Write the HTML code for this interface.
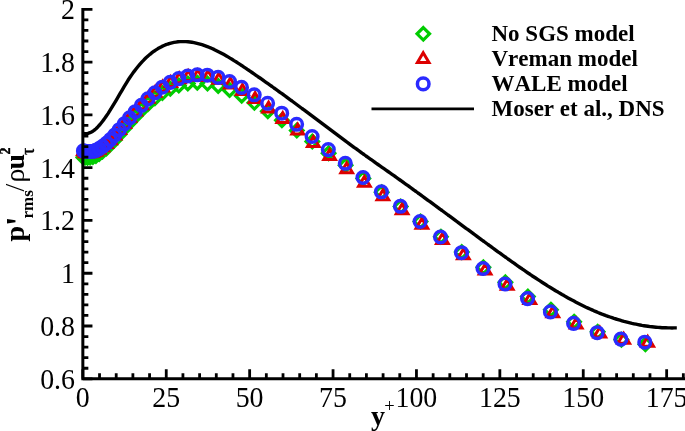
<!DOCTYPE html>
<html><head><meta charset="utf-8"><title>p rms</title>
<style>
html,body{margin:0;padding:0;background:#fff}
svg{display:block}
text{font-family:"Liberation Serif",serif;fill:#000;font-kerning:none}
.n{font-size:29.5px}
.b{font-weight:bold}
</style></head><body>
<svg width="685" height="431" viewBox="0 0 685 431">
<rect width="685" height="431" fill="#fff"/>
<path d="M82.8,133.1 L84.0,133.4 L86.0,133.6 L88.0,133.4 L90.0,132.7 L92.0,131.7 L94.0,130.4 L96.0,128.7 L98.0,126.7 L100.0,124.5 L102.0,122.0 L104.0,119.4 L106.0,116.5 L108.0,113.6 L110.0,110.4 L112.0,107.2 L114.0,103.9 L116.0,100.6 L118.0,97.2 L120.0,93.7 L122.0,90.3 L124.0,86.9 L126.0,83.6 L128.0,80.3 L130.0,77.3 L132.0,74.4 L134.0,71.6 L136.0,69.0 L138.0,66.5 L140.0,64.1 L142.0,61.9 L144.0,59.8 L146.0,57.8 L148.0,56.0 L150.0,54.3 L152.0,52.7 L154.0,51.2 L156.0,49.9 L158.0,48.6 L160.0,47.5 L162.0,46.4 L164.0,45.5 L166.0,44.7 L168.0,44.0 L170.0,43.4 L172.0,42.8 L174.0,42.4 L176.0,42.1 L178.0,41.8 L180.0,41.6 L182.0,41.6 L184.0,41.6 L186.0,41.6 L188.0,41.8 L190.0,42.0 L192.0,42.3 L194.0,42.6 L196.0,43.1 L198.0,43.6 L200.0,44.1 L202.0,44.7 L204.0,45.4 L206.0,46.1 L208.0,46.8 L210.0,47.7 L212.0,48.5 L214.0,49.4 L216.0,50.4 L218.0,51.4 L220.0,52.4 L222.0,53.5 L224.0,54.6 L226.0,55.7 L228.0,56.9 L230.0,58.1 L232.0,59.3 L234.0,60.6 L236.0,61.8 L238.0,63.1 L240.0,64.4 L242.0,65.7 L244.0,67.1 L246.0,68.4 L248.0,69.8 L250.0,71.1 L252.0,72.5 L254.0,73.9 L256.0,75.3 L258.0,76.7 L260.0,78.0 L262.0,79.4 L264.0,80.9 L266.0,82.3 L268.0,83.7 L270.0,85.1 L272.0,86.5 L274.0,88.0 L276.0,89.4 L278.0,90.8 L280.0,92.3 L282.0,93.7 L284.0,95.2 L286.0,96.6 L288.0,98.1 L290.0,99.6 L292.0,101.0 L294.0,102.5 L296.0,104.0 L298.0,105.5 L300.0,107.0 L302.0,108.5 L304.0,109.9 L306.0,111.4 L308.0,112.9 L310.0,114.4 L312.0,115.9 L314.0,117.4 L316.0,118.9 L318.0,120.4 L320.0,121.9 L322.0,123.4 L324.0,124.9 L326.0,126.4 L328.0,127.9 L330.0,129.4 L332.0,130.9 L334.0,132.4 L336.0,133.9 L338.0,135.4 L340.0,136.9 L342.0,138.4 L344.0,139.9 L346.0,141.4 L348.0,142.8 L350.0,144.3 L352.0,145.8 L354.0,147.3 L356.0,148.7 L358.0,150.2 L360.0,151.6 L362.0,153.1 L364.0,154.5 L366.0,156.0 L368.0,157.4 L370.0,158.8 L372.0,160.2 L374.0,161.6 L376.0,163.1 L378.0,164.5 L380.0,165.9 L382.0,167.3 L384.0,168.7 L386.0,170.1 L388.0,171.5 L390.0,172.9 L392.0,174.3 L394.0,175.7 L396.0,177.2 L398.0,178.6 L400.0,180.0 L402.0,181.4 L404.0,182.9 L406.0,184.3 L408.0,185.7 L410.0,187.2 L412.0,188.6 L414.0,190.1 L416.0,191.5 L418.0,193.0 L420.0,194.4 L422.0,195.9 L424.0,197.3 L426.0,198.8 L428.0,200.3 L430.0,201.7 L432.0,203.2 L434.0,204.7 L436.0,206.1 L438.0,207.6 L440.0,209.1 L442.0,210.5 L444.0,212.0 L446.0,213.5 L448.0,215.0 L450.0,216.4 L452.0,217.9 L454.0,219.4 L456.0,220.9 L458.0,222.3 L460.0,223.8 L462.0,225.3 L464.0,226.8 L466.0,228.3 L468.0,229.7 L470.0,231.2 L472.0,232.7 L474.0,234.2 L476.0,235.6 L478.0,237.1 L480.0,238.6 L482.0,240.1 L484.0,241.5 L486.0,243.0 L488.0,244.5 L490.0,245.9 L492.0,247.4 L494.0,248.8 L496.0,250.3 L498.0,251.8 L500.0,253.2 L502.0,254.7 L504.0,256.1 L506.0,257.5 L508.0,259.0 L510.0,260.4 L512.0,261.8 L514.0,263.2 L516.0,264.7 L518.0,266.1 L520.0,267.5 L522.0,268.8 L524.0,270.2 L526.0,271.6 L528.0,273.0 L530.0,274.3 L532.0,275.7 L534.0,277.0 L536.0,278.3 L538.0,279.6 L540.0,280.9 L542.0,282.2 L544.0,283.5 L546.0,284.8 L548.0,286.1 L550.0,287.3 L552.0,288.5 L554.0,289.7 L556.0,291.0 L558.0,292.1 L560.0,293.3 L562.0,294.5 L564.0,295.6 L566.0,296.8 L568.0,297.9 L570.0,299.0 L572.0,300.1 L574.0,301.1 L576.0,302.2 L578.0,303.2 L580.0,304.2 L582.0,305.2 L584.0,306.2 L586.0,307.2 L588.0,308.1 L590.0,309.0 L592.0,309.9 L594.0,310.8 L596.0,311.6 L598.0,312.5 L600.0,313.3 L602.0,314.1 L604.0,314.8 L606.0,315.6 L608.0,316.3 L610.0,317.0 L612.0,317.7 L614.0,318.4 L616.0,319.0 L618.0,319.6 L620.0,320.2 L622.0,320.8 L624.0,321.4 L626.0,321.9 L628.0,322.4 L630.0,322.9 L632.0,323.4 L634.0,323.8 L636.0,324.2 L638.0,324.6 L640.0,325.0 L642.0,325.4 L644.0,325.7 L646.0,326.0 L648.0,326.3 L650.0,326.6 L652.0,326.8 L654.0,327.0 L656.0,327.2 L658.0,327.4 L660.0,327.5 L662.0,327.7 L664.0,327.8 L666.0,327.8 L668.0,327.9 L670.0,327.9 L672.0,328.0 L674.0,327.9 L676.0,327.9 L676.8,327.9" fill="none" stroke="#000" stroke-width="3.4" stroke-linejoin="round"/>
<path d="M83.4,151.2l6.24,6.24l-6.24,6.24l-6.24,-6.24z M85.1,151.3l6.24,6.24l-6.24,6.24l-6.24,-6.24z M87.5,151.5l6.24,6.24l-6.24,6.24l-6.24,-6.24z M90.1,151.3l6.24,6.24l-6.24,6.24l-6.24,-6.24z M92.9,150.8l6.24,6.24l-6.24,6.24l-6.24,-6.24z M95.9,149.8l6.24,6.24l-6.24,6.24l-6.24,-6.24z M99.2,147.8l6.24,6.24l-6.24,6.24l-6.24,-6.24z M102.6,145.3l6.24,6.24l-6.24,6.24l-6.24,-6.24z M106.4,142.2l6.24,6.24l-6.24,6.24l-6.24,-6.24z M110.4,138.3l6.24,6.24l-6.24,6.24l-6.24,-6.24z M114.7,133.7l6.24,6.24l-6.24,6.24l-6.24,-6.24z M119.4,128.2l6.24,6.24l-6.24,6.24l-6.24,-6.24z M124.3,122.3l6.24,6.24l-6.24,6.24l-6.24,-6.24z M129.7,116.2l6.24,6.24l-6.24,6.24l-6.24,-6.24z M135.3,110.2l6.24,6.24l-6.24,6.24l-6.24,-6.24z M141.4,103.9l6.24,6.24l-6.24,6.24l-6.24,-6.24z M148.0,97.7l6.24,6.24l-6.24,6.24l-6.24,-6.24z M154.9,91.9l6.24,6.24l-6.24,6.24l-6.24,-6.24z M162.4,86.8l6.24,6.24l-6.24,6.24l-6.24,-6.24z M170.3,82.5l6.24,6.24l-6.24,6.24l-6.24,-6.24z M178.8,79.2l6.24,6.24l-6.24,6.24l-6.24,-6.24z M187.8,77.2l6.24,6.24l-6.24,6.24l-6.24,-6.24z M197.3,76.5l6.24,6.24l-6.24,6.24l-6.24,-6.24z M207.5,77.3l6.24,6.24l-6.24,6.24l-6.24,-6.24z M218.2,79.7l6.24,6.24l-6.24,6.24l-6.24,-6.24z M229.6,83.7l6.24,6.24l-6.24,6.24l-6.24,-6.24z M241.7,89.4l6.24,6.24l-6.24,6.24l-6.24,-6.24z M254.4,96.6l6.24,6.24l-6.24,6.24l-6.24,-6.24z M267.8,105.0l6.24,6.24l-6.24,6.24l-6.24,-6.24z M281.9,114.1l6.24,6.24l-6.24,6.24l-6.24,-6.24z M296.8,124.2l6.24,6.24l-6.24,6.24l-6.24,-6.24z M312.3,135.2l6.24,6.24l-6.24,6.24l-6.24,-6.24z M328.6,147.0l6.24,6.24l-6.24,6.24l-6.24,-6.24z M345.6,159.1l6.24,6.24l-6.24,6.24l-6.24,-6.24z M363.3,172.2l6.24,6.24l-6.24,6.24l-6.24,-6.24z M381.7,186.0l6.24,6.24l-6.24,6.24l-6.24,-6.24z M400.7,200.3l6.24,6.24l-6.24,6.24l-6.24,-6.24z M420.5,215.2l6.24,6.24l-6.24,6.24l-6.24,-6.24z M440.9,230.4l6.24,6.24l-6.24,6.24l-6.24,-6.24z M461.8,245.8l6.24,6.24l-6.24,6.24l-6.24,-6.24z M483.4,261.1l6.24,6.24l-6.24,6.24l-6.24,-6.24z M505.4,276.1l6.24,6.24l-6.24,6.24l-6.24,-6.24z M527.9,290.3l6.24,6.24l-6.24,6.24l-6.24,-6.24z M550.9,303.5l6.24,6.24l-6.24,6.24l-6.24,-6.24z M574.1,315.4l6.24,6.24l-6.24,6.24l-6.24,-6.24z M597.7,325.6l6.24,6.24l-6.24,6.24l-6.24,-6.24z M621.4,333.4l6.24,6.24l-6.24,6.24l-6.24,-6.24z M645.4,337.9l6.24,6.24l-6.24,6.24l-6.24,-6.24z" fill="none" stroke="#00cc00" stroke-width="3.2" stroke-linejoin="miter"/>
<path d="M83.4,144.9l5.8,9.8l-11.60,0z M85.1,147.0l5.8,9.8l-11.60,0z M87.5,147.1l5.8,9.8l-11.60,0z M90.1,146.9l5.8,9.8l-11.60,0z M93.0,146.5l5.8,9.8l-11.60,0z M96.0,145.4l5.8,9.8l-11.60,0z M99.2,143.5l5.8,9.8l-11.60,0z M102.7,140.9l5.8,9.8l-11.60,0z M106.5,137.8l5.8,9.8l-11.60,0z M110.5,133.9l5.8,9.8l-11.60,0z M114.9,129.1l5.8,9.8l-11.60,0z M119.5,123.6l5.8,9.8l-11.60,0z M124.5,117.6l5.8,9.8l-11.60,0z M129.8,111.5l5.8,9.8l-11.60,0z M135.6,105.3l5.8,9.8l-11.60,0z M141.7,98.9l5.8,9.8l-11.60,0z M148.2,92.5l5.8,9.8l-11.60,0z M155.2,86.5l5.8,9.8l-11.60,0z M162.7,81.1l5.8,9.8l-11.60,0z M170.7,76.6l5.8,9.8l-11.60,0z M179.2,73.0l5.8,9.8l-11.60,0z M188.2,70.7l5.8,9.8l-11.60,0z M197.8,69.9l5.8,9.8l-11.60,0z M208.0,70.8l5.8,9.8l-11.60,0z M218.8,73.5l5.8,9.8l-11.60,0z M230.3,78.1l5.8,9.8l-11.60,0z M242.4,84.6l5.8,9.8l-11.60,0z M255.1,92.7l5.8,9.8l-11.60,0z M268.6,102.3l5.8,9.8l-11.60,0z M282.8,112.7l5.8,9.8l-11.60,0z M297.7,124.2l5.8,9.8l-11.60,0z M313.3,136.6l5.8,9.8l-11.60,0z M329.6,149.6l5.8,9.8l-11.60,0z M346.7,162.9l5.8,9.8l-11.60,0z M364.4,176.5l5.8,9.8l-11.60,0z M382.9,190.0l5.8,9.8l-11.60,0z M402.1,203.9l5.8,9.8l-11.60,0z M421.9,218.5l5.8,9.8l-11.60,0z M442.4,233.6l5.8,9.8l-11.60,0z M463.4,249.0l5.8,9.8l-11.60,0z M485.1,264.3l5.8,9.8l-11.60,0z M507.2,279.5l5.8,9.8l-11.60,0z M529.8,293.8l5.8,9.8l-11.60,0z M552.8,306.9l5.8,9.8l-11.60,0z M576.2,318.2l5.8,9.8l-11.60,0z M599.8,327.2l5.8,9.8l-11.60,0z M623.7,333.4l5.8,9.8l-11.60,0z M647.7,336.4l5.8,9.8l-11.60,0z" fill="none" stroke="#dd0000" stroke-width="3" stroke-linejoin="miter"/>
<g fill="none" stroke="#2a2aff" stroke-width="3.5">
<circle cx="83.4" cy="150.9" r="5.8"/>
<circle cx="85.1" cy="151.2" r="5.8"/>
<circle cx="87.5" cy="151.5" r="5.8"/>
<circle cx="90.1" cy="151.5" r="5.8"/>
<circle cx="92.9" cy="151.3" r="5.8"/>
<circle cx="95.9" cy="150.4" r="5.8"/>
<circle cx="99.1" cy="148.6" r="5.8"/>
<circle cx="102.6" cy="146.3" r="5.8"/>
<circle cx="106.4" cy="143.4" r="5.8"/>
<circle cx="110.4" cy="139.6" r="5.8"/>
<circle cx="114.7" cy="135.1" r="5.8"/>
<circle cx="119.3" cy="129.7" r="5.8"/>
<circle cx="124.3" cy="123.9" r="5.8"/>
<circle cx="129.6" cy="117.8" r="5.8"/>
<circle cx="135.3" cy="111.7" r="5.8"/>
<circle cx="141.4" cy="105.3" r="5.8"/>
<circle cx="147.9" cy="98.9" r="5.8"/>
<circle cx="154.9" cy="92.8" r="5.8"/>
<circle cx="162.3" cy="87.2" r="5.8"/>
<circle cx="170.2" cy="82.4" r="5.8"/>
<circle cx="178.7" cy="78.6" r="5.8"/>
<circle cx="187.7" cy="76.0" r="5.8"/>
<circle cx="197.2" cy="74.8" r="5.8"/>
<circle cx="207.3" cy="75.2" r="5.8"/>
<circle cx="218.1" cy="77.4" r="5.8"/>
<circle cx="229.5" cy="81.5" r="5.8"/>
<circle cx="241.5" cy="87.4" r="5.8"/>
<circle cx="254.2" cy="94.8" r="5.8"/>
<circle cx="267.6" cy="103.3" r="5.8"/>
<circle cx="281.7" cy="113.2" r="5.8"/>
<circle cx="296.6" cy="124.3" r="5.8"/>
<circle cx="312.1" cy="136.5" r="5.8"/>
<circle cx="328.3" cy="149.6" r="5.8"/>
<circle cx="345.3" cy="163.3" r="5.8"/>
<circle cx="363.0" cy="177.5" r="5.8"/>
<circle cx="381.4" cy="191.8" r="5.8"/>
<circle cx="400.4" cy="206.3" r="5.8"/>
<circle cx="420.1" cy="221.5" r="5.8"/>
<circle cx="440.5" cy="237.0" r="5.8"/>
<circle cx="461.5" cy="252.7" r="5.8"/>
<circle cx="483.0" cy="268.5" r="5.8"/>
<circle cx="505.0" cy="284.0" r="5.8"/>
<circle cx="527.5" cy="298.6" r="5.8"/>
<circle cx="550.4" cy="311.9" r="5.8"/>
<circle cx="573.6" cy="323.4" r="5.8"/>
<circle cx="597.2" cy="332.7" r="5.8"/>
<circle cx="620.9" cy="339.1" r="5.8"/>
<circle cx="644.8" cy="342.2" r="5.8"/>
</g>
<path d="M82.85,8 V378.8 H686" fill="none" stroke="#000" stroke-width="3" stroke-linejoin="miter"/>
<path d="M82.85,378.80h9.600000000000001 M82.85,368.24h5.5 M82.85,357.69h5.5 M82.85,347.13h5.5 M82.85,336.58h5.5 M82.85,326.02h9.600000000000001 M82.85,315.46h5.5 M82.85,304.91h5.5 M82.85,294.35h5.5 M82.85,283.80h5.5 M82.85,273.24h9.600000000000001 M82.85,262.68h5.5 M82.85,252.13h5.5 M82.85,241.57h5.5 M82.85,231.02h5.5 M82.85,220.46h9.600000000000001 M82.85,209.90h5.5 M82.85,199.35h5.5 M82.85,188.79h5.5 M82.85,178.24h5.5 M82.85,167.68h9.600000000000001 M82.85,157.12h5.5 M82.85,146.57h5.5 M82.85,136.01h5.5 M82.85,125.46h5.5 M82.85,114.90h9.600000000000001 M82.85,104.34h5.5 M82.85,93.79h5.5 M82.85,83.23h5.5 M82.85,72.68h5.5 M82.85,62.12h9.600000000000001 M82.85,51.56h5.5 M82.85,41.01h5.5 M82.85,30.45h5.5 M82.85,19.90h5.5 M82.85,9.34h9.600000000000001 M82.85,378.8v-9.600000000000001 M99.53,378.8v-5.5 M116.21,378.8v-5.5 M132.89,378.8v-5.5 M149.57,378.8v-5.5 M166.25,378.8v-9.600000000000001 M182.93,378.8v-5.5 M199.61,378.8v-5.5 M216.29,378.8v-5.5 M232.97,378.8v-5.5 M249.65,378.8v-9.600000000000001 M266.33,378.8v-5.5 M283.01,378.8v-5.5 M299.69,378.8v-5.5 M316.37,378.8v-5.5 M333.05,378.8v-9.600000000000001 M349.73,378.8v-5.5 M366.41,378.8v-5.5 M383.09,378.8v-5.5 M399.77,378.8v-5.5 M416.45,378.8v-9.600000000000001 M433.13,378.8v-5.5 M449.81,378.8v-5.5 M466.49,378.8v-5.5 M483.17,378.8v-5.5 M499.85,378.8v-9.600000000000001 M516.53,378.8v-5.5 M533.21,378.8v-5.5 M549.89,378.8v-5.5 M566.57,378.8v-5.5 M583.25,378.8v-9.600000000000001 M599.93,378.8v-5.5 M616.61,378.8v-5.5 M633.29,378.8v-5.5 M649.97,378.8v-5.5 M666.65,378.8v-9.600000000000001 M683.33,378.8v-5.5" fill="none" stroke="#000" stroke-width="2.8"/>
<g class="n">
<text transform="translate(75,19.1) scale(0.945,1)" text-anchor="end">2</text>
<text transform="translate(75,71.9) scale(0.945,1)" text-anchor="end">1.8</text>
<text transform="translate(75,124.7) scale(0.945,1)" text-anchor="end">1.6</text>
<text transform="translate(75,177.5) scale(0.945,1)" text-anchor="end">1.4</text>
<text transform="translate(75,230.3) scale(0.945,1)" text-anchor="end">1.2</text>
<text transform="translate(75,283.0) scale(0.945,1)" text-anchor="end">1</text>
<text transform="translate(75,335.8) scale(0.945,1)" text-anchor="end">0.8</text>
<text transform="translate(75,388.6) scale(0.945,1)" text-anchor="end">0.6</text>
<text transform="translate(82.8,407.4) scale(0.945,1)" text-anchor="middle">0</text>
<text transform="translate(166.2,407.4) scale(0.945,1)" text-anchor="middle">25</text>
<text transform="translate(249.6,407.4) scale(0.945,1)" text-anchor="middle">50</text>
<text transform="translate(333.0,407.4) scale(0.945,1)" text-anchor="middle">75</text>
<text transform="translate(416.4,407.4) scale(0.945,1)" text-anchor="middle">100</text>
<text transform="translate(499.9,407.4) scale(0.945,1)" text-anchor="middle">125</text>
<text transform="translate(583.2,407.4) scale(0.945,1)" text-anchor="middle">150</text>
<text transform="translate(666.6,407.4) scale(0.945,1)" text-anchor="middle">175</text>
</g>
<!-- legend -->
<path d="M423.3,27.56l6.24,6.24l-6.24,6.24l-6.24,-6.24z" fill="none" stroke="#00cc00" stroke-width="3.2"/>
<path d="M423.2,52.7l5.8,9.8l-11.6,0z" fill="none" stroke="#dd0000" stroke-width="3"/>
<circle cx="423.2" cy="83.9" r="5.8" fill="none" stroke="#2a2aff" stroke-width="3.5"/>
<path d="M371.5,108.9H474" stroke="#000" stroke-width="2.9"/>
<g class="b" font-size="23">
<text x="491.5" y="40.9">No SGS model</text>
<text x="491.5" y="65.9">Vreman model</text>
<text x="491.5" y="90.8">WALE model</text>
<text x="491.5" y="115.9">Moser et al., DNS</text>
</g>
<!-- x title -->
<text class="b" font-size="28" x="371" y="425.3">y</text>
<text font-size="18.5" x="384.3" y="411.6">+</text>
<!-- y title -->
<g transform="translate(24.2,241.5) rotate(-90)">
<text class="b" font-size="28" x="0" y="0">p</text>
<text class="b" font-size="36" x="15.2" y="7">'</text>
<text class="b" font-size="17" x="23" y="9">rms</text>
<text font-size="28" x="50" y="0">/</text>
<text font-size="28" x="59" y="0">ρ</text>
<text class="b" font-size="28" x="72" y="0">u</text>
<text class="b" font-size="14" x="87" y="-14" stroke="#000" stroke-width="0.4">2</text>
<text font-size="18" x="86.5" y="9.8" stroke="#000" stroke-width="0.4">τ</text>
</g>
</svg>
</body></html>
